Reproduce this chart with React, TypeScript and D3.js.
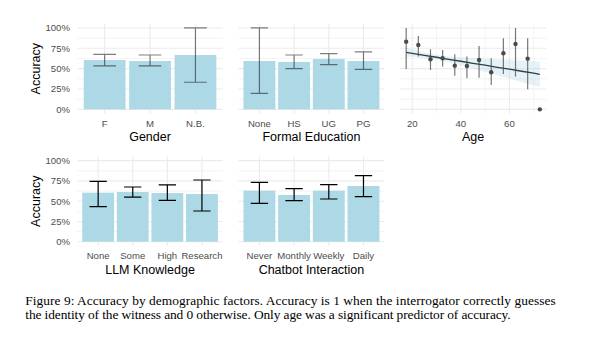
import React from "react";
import * as d3 from "d3";

// ---------- data ----------
const genderCats = ["F", "M", "N.B."];
const genderAcc = [0.606, 0.594, 0.667];
const genderLo = [0.533, 0.533, 0.333];
const genderHi = [0.676, 0.668, 1.0];

const eduCats = ["None", "HS", "UG", "PG"];
const eduAcc = [0.594, 0.582, 0.619, 0.594];
const eduLo = [0.197, 0.5, 0.549, 0.492];
const eduHi = [1.0, 0.668, 0.684, 0.705];

const llmCats = ["None", "Some", "High", "Research"];
const llmAcc = [0.605, 0.613, 0.6, 0.588];
const llmLo = [0.432, 0.551, 0.51, 0.379];
const llmHi = [0.745, 0.675, 0.7, 0.761];

const chatCats = ["Never", "Monthly", "Weekly", "Daily"];
const chatAcc = [0.63, 0.576, 0.63, 0.687];
const chatLo = [0.473, 0.506, 0.527, 0.556];
const chatHi = [0.733, 0.654, 0.704, 0.815];

const ageX = [17.5, 22.5, 27.5, 32.5, 37.5, 42.5, 47.5, 52.5, 57.5, 62.5, 67.5, 72.5];
const ageAcc = [0.832, 0.791, 0.615, 0.627, 0.537, 0.533, 0.607, 0.455, 0.689, 0.803, 0.623, 0];
const ageLo = [0.496, 0.648, 0.484, 0.525, 0.414, 0.381, 0.389, 0.299, 0.434, 0.402, 0.246, 0];
const ageHi = [1.0, 0.9, 0.738, 0.73, 0.676, 0.648, 0.779, 0.627, 0.873, 1.0, 0.873, 0];

const fitX = [17.5, 20, 25, 30, 35, 40, 45, 50, 55, 60, 65, 70, 72.5];
const fitY = [0.701, 0.689, 0.664, 0.64, 0.615, 0.591, 0.566, 0.542, 0.517, 0.493, 0.468, 0.444, 0.43];
const fitLo = [0.646, 0.642, 0.629, 0.61, 0.58, 0.543, 0.503, 0.462, 0.42, 0.378, 0.336, 0.293, 0.277];
const fitHi = [0.756, 0.737, 0.699, 0.67, 0.65, 0.639, 0.629, 0.622, 0.614, 0.608, 0.6, 0.595, 0.583];

const yTicks = [0, 0.25, 0.5, 0.75, 1];
const yMinor = [0.125, 0.375, 0.625, 0.875];
const ageTicks = [20, 40, 60];
const ageMinor = [30, 50, 70];

const caption1 = "Figure 9: Accuracy by demographic factors. Accuracy is 1 when the interrogator correctly guesses";
const caption2 = "the identity of the witness and 0 otherwise. Only age was a significant predictor of accuracy.";

// ---------- layout ----------
const COLS = [
  [77.4, 222.7],
  [238.6, 384.3],
  [399.5, 546.5],
];
const ROWS = [
  { top: 23.9, bottom: 113.4, tick: 126.8, title: 141.2, ylab: 68.7 },
  { top: 156.6, bottom: 245.75, tick: 258.5, title: 273.5, ylab: 201.2 },
];
const SANS = "'Liberation Sans', Arial, Helvetica, sans-serif";
const SERIF = "'Liberation Serif', 'Times New Roman', Times, serif";
const GRID = "#EBEBEB";
const BAR = "#ADD8E6";

function yScale(row: number) {
  const r = ROWS[row];
  return d3.scaleLinear().domain([-0.05, 1.05]).range([r.bottom, r.top]);
}

function YAxis({ row }: { row: number }) {
  const y = yScale(row);
  const fmt = d3.format(".0%");
  return (
    <g>
      {yTicks.map((t) => (
        <text key={t} x={70} y={y(t)} dy="0.35em" textAnchor="end" fontFamily={SANS} fontSize={9.6} fill="#4D4D4D">
          {fmt(t)}
        </text>
      ))}
      <text
        transform={`translate(39.5, ${ROWS[row].ylab}) rotate(-90)`}
        textAnchor="middle"
        fontFamily={SANS}
        fontSize={12.5}
        fill="#000"
      >
        Accuracy
      </text>
    </g>
  );
}

function HGrid({ col, row }: { col: number; row: number }) {
  const y = yScale(row);
  const [x0, x1] = COLS[col];
  return (
    <g>
      {yMinor.map((t) => (
        <line key={"m" + t} x1={x0} x2={x1} y1={y(t)} y2={y(t)} stroke={GRID} strokeWidth={0.6} />
      ))}
      {yTicks.map((t) => (
        <line key={"M" + t} x1={x0} x2={x1} y1={y(t)} y2={y(t)} stroke={GRID} strokeWidth={1.1} />
      ))}
    </g>
  );
}

function BarPanel({
  col,
  row,
  cats,
  acc,
  lo,
  hi,
  title,
  errColor,
  errOpacity,
}: {
  col: number;
  row: number;
  cats: string[];
  acc: number[];
  lo: number[];
  hi: number[];
  title: string;
  errColor: string;
  errOpacity: number;
}) {
  const y = yScale(row);
  const [x0, x1] = COLS[col];
  const x = d3.scalePoint<string>().domain(cats).range([x0, x1]).padding(0.6);
  const step = x.step();
  const bw = step * 0.92;
  const cw = step * 0.5;
  const r = ROWS[row];
  return (
    <g>
      <HGrid col={col} row={row} />
      {cats.map((c) => (
        <line key={"v" + c} x1={x(c)} x2={x(c)} y1={r.top} y2={r.bottom} stroke={GRID} strokeWidth={1.1} />
      ))}
      {cats.map((c, i) => (
        <rect key={"b" + c} x={(x(c) as number) - bw / 2} width={bw} y={y(acc[i])} height={y(0) - y(acc[i])} fill={BAR} />
      ))}
      {cats.map((c, i) => {
        const cx = x(c) as number;
        return (
          <g key={"e" + c} stroke={errColor} strokeOpacity={errOpacity} strokeWidth={1.2} fill="none">
            <path
              d={`M${cx - cw / 2},${y(hi[i])}H${cx + cw / 2}M${cx},${y(hi[i])}V${y(lo[i])}M${cx - cw / 2},${y(lo[i])}H${cx + cw / 2}`}
            />
          </g>
        );
      })}
      {cats.map((c) => (
        <text key={"t" + c} x={x(c)} y={r.tick} textAnchor="middle" fontFamily={SANS} fontSize={9.6} fill="#4D4D4D">
          {c}
        </text>
      ))}
      <text x={(x0 + x1) / 2} y={r.title} textAnchor="middle" fontFamily={SANS} fontSize={12.5} fill="#000">
        {title}
      </text>
    </g>
  );
}

function AgePanel() {
  const row = 0;
  const col = 2;
  const y = yScale(row);
  const [x0, x1] = COLS[col];
  const r = ROWS[row];
  const x = d3.scaleLinear().domain([14.75, 75.25]).range([x0, x1]);
  const area = d3
    .area<number>()
    .x((_, i) => x(fitX[i]))
    .y0((_, i) => y(fitLo[i]))
    .y1((_, i) => y(fitHi[i]));
  const line = d3
    .line<number>()
    .x((_, i) => x(fitX[i]))
    .y((d) => y(d));
  return (
    <g>
      <HGrid col={col} row={row} />
      {ageMinor.map((t) => (
        <line key={"am" + t} x1={x(t)} x2={x(t)} y1={r.top} y2={r.bottom} stroke={GRID} strokeWidth={0.6} />
      ))}
      {ageTicks.map((t) => (
        <line key={"aM" + t} x1={x(t)} x2={x(t)} y1={r.top} y2={r.bottom} stroke={GRID} strokeWidth={1.1} />
      ))}
      <path d={area(fitY) || ""} fill={BAR} fillOpacity={0.32} />
      {ageX.map((a, i) => (
        <line key={"ae" + i} x1={x(a)} x2={x(a)} y1={y(ageLo[i])} y2={y(ageHi[i])} stroke="#555" strokeOpacity={0.8} strokeWidth={1.2} />
      ))}
      <path d={line(fitY) || ""} fill="none" stroke="#2F3F45" strokeWidth={1.3} />
      {ageX.map((a, i) => (
        <circle key={"ap" + i} cx={x(a)} cy={y(ageAcc[i])} r={2.2} fill="#4a4a4a" />
      ))}
      {ageTicks.map((t) => (
        <text key={"at" + t} x={x(t)} y={r.tick} textAnchor="middle" fontFamily={SANS} fontSize={9.6} fill="#4D4D4D">
          {t}
        </text>
      ))}
      <text x={(x0 + x1) / 2} y={r.title} textAnchor="middle" fontFamily={SANS} fontSize={12.5} fill="#000">
        Age
      </text>
    </g>
  );
}

export default function App() {
  return (
    <svg
      width={591}
      height={357}
      viewBox="0 0 591 357"
      style={{ position: "absolute", left: 0, top: 0, background: "#fff" }}
    >
      <rect width={591} height={357} fill="#fff" />
      <YAxis row={0} />
      <YAxis row={1} />
      <BarPanel col={0} row={0} cats={genderCats} acc={genderAcc} lo={genderLo} hi={genderHi} title="Gender" errColor="#000" errOpacity={0.5} />
      <BarPanel col={1} row={0} cats={eduCats} acc={eduAcc} lo={eduLo} hi={eduHi} title="Formal Education" errColor="#000" errOpacity={0.5} />
      <AgePanel />
      <BarPanel col={0} row={1} cats={llmCats} acc={llmAcc} lo={llmLo} hi={llmHi} title="LLM Knowledge" errColor="#000" errOpacity={1} />
      <BarPanel col={1} row={1} cats={chatCats} acc={chatAcc} lo={chatLo} hi={chatHi} title="Chatbot Interaction" errColor="#000" errOpacity={1} />
      <text x={25.3} y={305} fontFamily={SERIF} fontSize={13.4} fill="#000" textLength={530.4} lengthAdjust="spacing">
        {caption1}
      </text>
      <text x={25.3} y={319.3} fontFamily={SERIF} fontSize={13.4} fill="#000" textLength={485.4} lengthAdjust="spacing">
        {caption2}
      </text>
    </svg>
  );
}
